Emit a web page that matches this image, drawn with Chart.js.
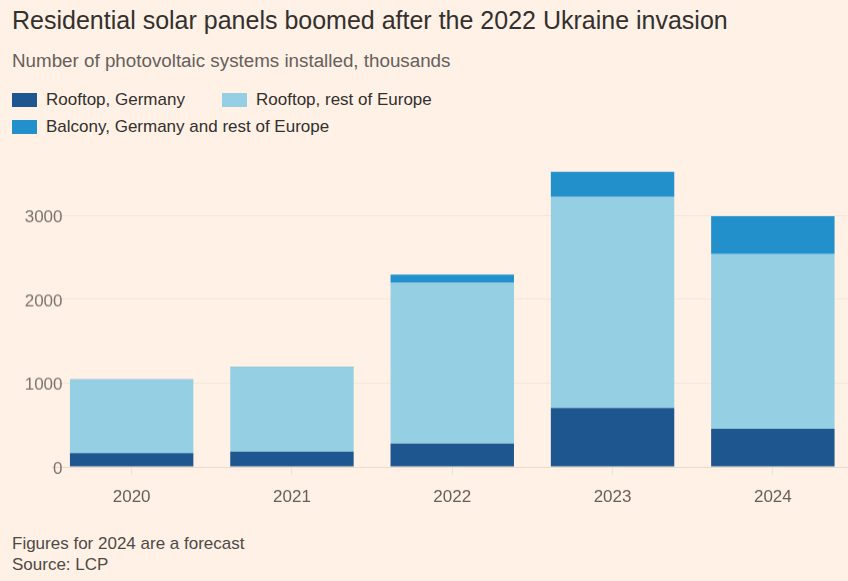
<!DOCTYPE html>
<html>
<head>
<meta charset="utf-8">
<script src="https://cdn.jsdelivr.net/npm/chart.js@4.4.1/dist/chart.umd.min.js"></script>
<style>
  html, body { margin: 0; padding: 0; background: #FFF1E5; overflow: hidden; }
  body { width: 848px; height: 581px; position: relative; font-family: "Liberation Sans", sans-serif; }
  #titulo { position: absolute; left: 12px; top: 6px; font-size: 25px; color: #33302E; white-space: nowrap; }
  #subtitulo { position: absolute; left: 12px; top: 50px; font-size: 18.8px; color: #66605C; white-space: nowrap; }
  #leyenda { position: absolute; left: 12px; top: 90px; font-size: 17px; color: #33302E; }
  .item { position: absolute; white-space: nowrap; height: 20px; line-height: 20px; }
  .caja { display: inline-block; width: 25px; height: 14px; vertical-align: -2px; margin-right: 9px; }
  #notas { position: absolute; left: 12px; top: 533px; font-size: 17px; color: #4F4A46; line-height: 21px; }
  #contenedor { position: absolute; left: 0; top: 150px; width: 860px; height: 368.5px; }
</style>
</head>
<body>
<div id="titulo">Residential solar panels boomed after the 2022 Ukraine invasion</div>
<div id="subtitulo">Number of photovoltaic systems installed, thousands</div>
<div id="leyenda"></div>
<div id="contenedor"><canvas id="grafico"></canvas></div>
<div id="notas">Figures for 2024 are a forecast<br>Source: LCP</div>
<script>
//datos del gráfico (miles de sistemas)
const años = ["2020", "2021", "2022", "2023", "2024"];
const tejadoAlemania = [165, 185, 280, 705, 455];
const tejadoResto = [875, 1005, 1915, 2515, 2085];
const balcon = [4, 8, 100, 300, 450];
const nombres = ["Rooftop, Germany", "Rooftop, rest of Europe", "Balcony, Germany and rest of Europe"];
const colores = ["#1E5690", "#94CFE3", "#2290CB"];
const marcasY = [0, 1000, 2000, 3000];

//leyenda en html (posiciones como en el original)
const posLeyenda = [[0, 0], [210, 0], [0, 27]];
const leyenda = document.getElementById("leyenda");
nombres.forEach((nombre, i) => {
    const item = document.createElement("div");
    item.className = "item";
    item.style.left = posLeyenda[i][0] + "px";
    item.style.top = posLeyenda[i][1] + "px";
    item.innerHTML = '<span class="caja" style="background:' + colores[i] + '"></span>' + nombre;
    leyenda.appendChild(item);
});

//etiquetas del eje y alineadas a la derecha, dentro del área (como en el original)
const etiquetasY = {
    id: "etiquetasY",
    afterDraw: chart => {
        const y = chart.scales.y;
        const c = chart.ctx;
        c.save();
        c.font = "17px 'Liberation Sans'";
        c.fillStyle = "#7A736D";
        c.textAlign = "right";
        c.textBaseline = "middle";
        y.ticks.forEach(t => {
            c.fillText(String(t.value), 62.5, y.getPixelForValue(t.value) + 2);
        });
        c.restore();
    }
};

const ctx = document.getElementById("grafico").getContext("2d");
const grafico = new Chart(ctx, {
    type: "bar",
    data: {
        labels: años,
        datasets: [tejadoAlemania, tejadoResto, balcon].map((serie, i) => ({
            label: nombres[i],
            data: serie,
            backgroundColor: colores[i],
            borderWidth: 0,
            barPercentage: 1,
            categoryPercentage: 0.77
        }))
    },
    options: {
        responsive: true,
        maintainAspectRatio: false,
        animation: false,
        layout: { padding: { top: 15, left: 0, right: 7, bottom: 0 } },
        plugins: {
            legend: { display: false },
            tooltip: { enabled: false }
        },
        scales: {
            x: {
                stacked: true,
                grid: { display: true, drawOnChartArea: false, offset: false, tickLength: 8, color: "rgba(102,96,92,0.10)" },
                border: { display: true, color: "rgba(102,96,92,0.10)" },
                ticks: { color: "#66605C", padding: 12, font: { family: "Liberation Sans", size: 17 } }
            },
            y: {
                stacked: true,
                min: 0,
                max: 3600,
                afterBuildTicks: escala => {
                    escala.ticks = marcasY.map(v => ({ value: v }));
                },
                afterFit: escala => { escala.width = 51.5; },
                grid: { color: "rgba(102,96,92,0.07)", drawTicks: false },
                border: { display: false },
                ticks: { display: false }
            }
        }
    },
    plugins: [etiquetasY]
});
</script>
</body>
</html>
